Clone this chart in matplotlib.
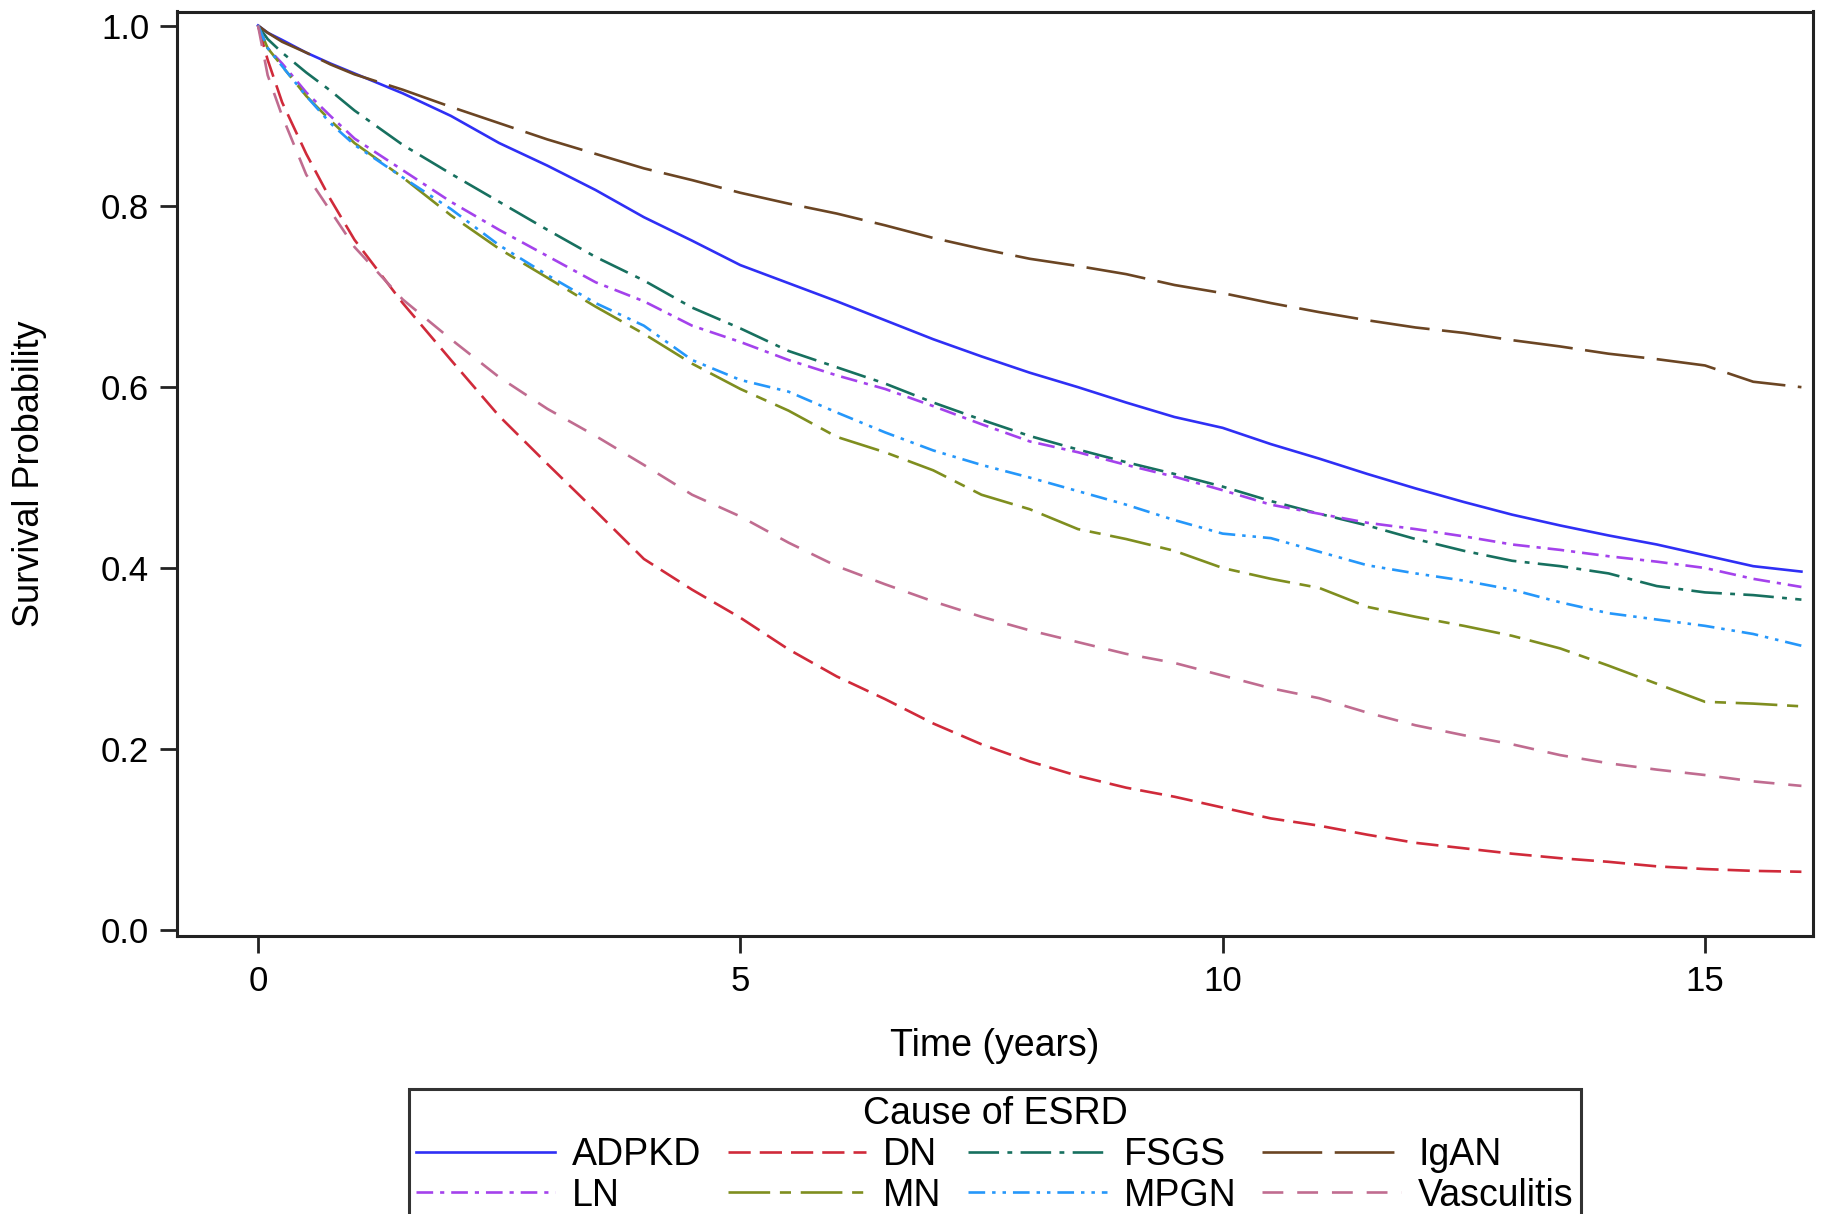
import matplotlib
matplotlib.use("Agg")
import matplotlib.pyplot as plt

plt.rcParams['font.family'] = ['Liberation Sans', 'DejaVu Sans']
plt.rcParams['lines.scale_dashes'] = False

# ---------------- data ----------------
time_years = [0, 0.1, 0.25, 0.5, 0.75, 1, 1.5, 2, 2.5, 3, 3.5, 4, 4.5, 5, 5.5, 6, 6.5,
              7, 7.5, 8, 8.5, 9, 9.5, 10, 10.5, 11, 11.5, 12, 12.5, 13, 13.5, 14,
              14.5, 15, 15.5, 16]

adpkd = [1.0, 0.992, 0.984, 0.970, 0.958, 0.947, 0.925, 0.900, 0.870, 0.845, 0.818, 0.788,
         0.762, 0.735, 0.715, 0.695, 0.674, 0.653, 0.634, 0.616, 0.600, 0.583, 0.567, 0.555,
         0.537, 0.521, 0.504, 0.488, 0.473, 0.459, 0.447, 0.436, 0.426, 0.414, 0.402, 0.396]
dn = [1.0, 0.962, 0.915, 0.858, 0.808, 0.763, 0.693, 0.630, 0.568, 0.515, 0.463, 0.410,
      0.376, 0.345, 0.310, 0.280, 0.255, 0.228, 0.205, 0.186, 0.170, 0.157, 0.147, 0.135,
      0.123, 0.115, 0.105, 0.096, 0.090, 0.084, 0.079, 0.075, 0.070, 0.067, 0.065, 0.064]
fsgs = [1.0, 0.985, 0.970, 0.948, 0.928, 0.906, 0.868, 0.836, 0.805, 0.774, 0.744, 0.718,
        0.688, 0.665, 0.640, 0.622, 0.604, 0.583, 0.564, 0.546, 0.531, 0.517, 0.504, 0.490,
        0.474, 0.460, 0.447, 0.432, 0.419, 0.408, 0.402, 0.394, 0.380, 0.373, 0.370, 0.365]
igan = [1.0, 0.992, 0.982, 0.970, 0.957, 0.946, 0.929, 0.910, 0.892, 0.874, 0.858, 0.842,
        0.829, 0.815, 0.803, 0.792, 0.779, 0.765, 0.753, 0.742, 0.734, 0.725, 0.713, 0.704,
        0.693, 0.683, 0.674, 0.666, 0.660, 0.652, 0.645, 0.637, 0.631, 0.624, 0.606, 0.600]
ln = [1.0, 0.975, 0.958, 0.926, 0.900, 0.875, 0.840, 0.805, 0.774, 0.745, 0.716, 0.695,
      0.668, 0.650, 0.630, 0.613, 0.598, 0.579, 0.559, 0.540, 0.528, 0.514, 0.501, 0.486,
      0.470, 0.460, 0.450, 0.443, 0.435, 0.426, 0.420, 0.413, 0.407, 0.400, 0.388, 0.379]
mn = [1.0, 0.975, 0.955, 0.922, 0.895, 0.870, 0.832, 0.790, 0.753, 0.721, 0.689, 0.659,
      0.626, 0.598, 0.574, 0.545, 0.528, 0.508, 0.481, 0.465, 0.443, 0.432, 0.419, 0.400,
      0.388, 0.378, 0.357, 0.346, 0.336, 0.325, 0.311, 0.292, 0.272, 0.252, 0.250, 0.247]
mpgn = [1.0, 0.975, 0.955, 0.922, 0.892, 0.868, 0.832, 0.797, 0.757, 0.724, 0.693, 0.668,
        0.630, 0.608, 0.595, 0.572, 0.550, 0.530, 0.514, 0.500, 0.485, 0.470, 0.453, 0.438,
        0.433, 0.418, 0.403, 0.394, 0.386, 0.376, 0.362, 0.350, 0.343, 0.336, 0.327, 0.314]
vasculitis = [1.0, 0.945, 0.900, 0.835, 0.795, 0.755, 0.697, 0.653, 0.611, 0.576, 0.546,
              0.514, 0.481, 0.457, 0.428, 0.402, 0.382, 0.363, 0.346, 0.331, 0.318, 0.305,
              0.295, 0.281, 0.267, 0.256, 0.240, 0.226, 0.215, 0.205, 0.193, 0.184, 0.177,
              0.171, 0.164, 0.159]

causes = ["ADPKD", "DN", "FSGS", "IgAN", "LN", "MN", "MPGN", "Vasculitis"]
x_ticks = [0, 5, 10, 15]
y_ticks = [0.0, 0.2, 0.4, 0.6, 0.8, 1.0]

# ---------------- styles ----------------
series = {"ADPKD": adpkd, "DN": dn, "FSGS": fsgs, "IgAN": igan,
          "LN": ln, "MN": mn, "MPGN": mpgn, "Vasculitis": vasculitis}
colors = {"ADPKD": "#2f2ff5", "DN": "#d02a3a", "FSGS": "#17705f", "IgAN": "#6b4523",
          "LN": "#a442ec", "MN": "#7f8e1f", "MPGN": "#2597fa", "Vasculitis": "#c06c90"}
dashes = {"ADPKD": None, "DN": (16, 6.5), "FSGS": (22, 6, 3.5, 6), "IgAN": (43, 9),
          "LN": (12, 5, 3, 5), "MN": (30, 7, 8, 7), "MPGN": (12, 5, 2.5, 5, 2.5, 5),
          "Vasculitis": (15, 10)}

W, H = 1822, 1214
fig = plt.figure(figsize=(W / 100, H / 100), dpi=100)
ax = fig.add_axes([177 / W, 1 - 935.6 / H, (1813 - 177) / W, (935.6 - 11.5) / H])

handles = {}
for name in causes:
    (line,) = ax.plot(time_years, series[name], color=colors[name], lw=1.9, label=name)
    if dashes[name] is not None:
        line.set_dashes(dashes[name])
    handles[name] = line

ax.set_xlim(-0.84, 16.12)
ax.set_ylim(-0.0066, 1.0155)
ax.set_xticks(x_ticks)
ax.set_xticklabels([str(v) for v in x_ticks])
ax.set_yticks(y_ticks)
ax.set_yticklabels([f"{v:.1f}" for v in y_ticks])
ax.tick_params(axis='both', direction='out', length=12, width=2, colors='#222222',
               labelsize=25, labelcolor='black')
ax.tick_params(axis='x', pad=9)
ax.tick_params(axis='y', pad=8)
for sp in ax.spines.values():
    sp.set_linewidth(2.2)
    sp.set_color('#222222')

ax.set_xlabel("Time (years)", fontsize=27, va='center')
ax.xaxis.set_label_coords(0.5, (935.6 - 1046) / (935.6 - 11.5))
ax.set_ylabel("Survival Probability", fontsize=26, va='center', rotation=90)
ax.yaxis.set_label_coords((30 - 177) / (1813 - 177), 0.5)

order = ["ADPKD", "LN", "DN", "MN", "FSGS", "MPGN", "IgAN", "Vasculitis"]
leg = fig.legend([handles[n] for n in order], order, loc='upper center',
                 bbox_to_anchor=(995 / W, 1 - 1089 / H), ncol=4,
                 title="Cause of ESRD", fontsize=27, title_fontsize=27,
                 frameon=True, fancybox=False, edgecolor='black',
                 handlelength=3.7, handletextpad=0.45, columnspacing=0.7,
                 borderpad=0.2, labelspacing=0.12, borderaxespad=0)
leg.get_frame().set_linewidth(2.2)

fig.savefig("out.png", dpi=100, facecolor='white')
